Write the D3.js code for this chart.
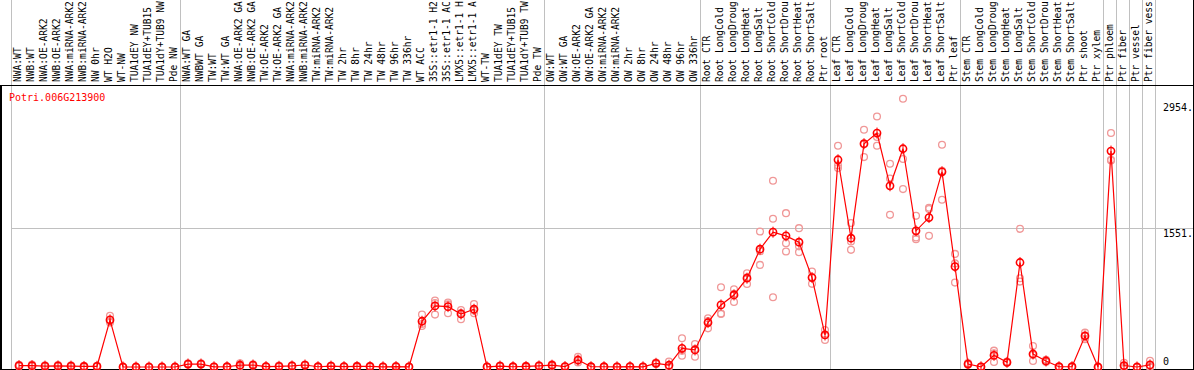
<!DOCTYPE html>
<html>
<head>
<meta charset="utf-8">
<script src="https://cdn.jsdelivr.net/npm/d3@7"></script>
<style>
  body { margin: 0; background: #fff; }
  text { font-family: "DejaVu Sans Mono", monospace; font-size: 10px; }
  .lbl { font-size: 9.6px; }
</style>
</head>
<body>
<svg id="chart" width="1194" height="370"></svg>
<script>
// sample labels (as shown, cut to 14 chars)
var labels = [
  "NWA:WT", "NWB:WT", "NWA:OE-ARK2", "NWB:OE-ARK2", "NWA:miRNA-ARK2", "NWB:miRNA-ARK2", "NW 0hr", "WT H2O", "WT-NW",
  "TUA1dEY NW", "TUA1dEY+TUB15", "TUA1dY+TUB9 NW", "Pde NW",
  "NWA:WT GA", "NWBWT GA", "TW:WT", "TW:WT GA", "NWA:OE-ARK2 GA", "NWB:OE-ARK2 GA", "TW:OE-ARK2", "TW:OE-ARK2 GA",
  "NWA:miRNA-ARK2", "NWB:miRNA-ARK2", "TW:miRNA-ARK2", "TW:miRNA-ARK2", "TW 2hr", "TW 8hr", "TW 24hr", "TW 48hr",
  "TW 96hr", "TW 336hr", "WT ACC", "35S::etr1-1 H2", "35S::etr1-1 AC", "LMX5::etr1-1 H", "LMX5::etr1-1 A", "WT-TW",
  "TUA1dEY TW", "TUA1dEY+TUB15", "TUA1dY+TUB9 TW", "Pde TW",
  "OW:WT", "OW:WT GA", "OW:OE-ARK2", "OW:OE-ARK2 GA", "OW:miRNA-ARK2", "OW:miRNA-ARK2", "OW 2hr", "OW 8hr",
  "OW 24hr", "OW 48hr", "OW 96hr", "OW 336hr",
  "Root CTR", "Root LongCold", "Root LongDroug", "Root LongHeat", "Root LongSalt", "Root ShortCold", "Root ShortDrou",
  "Root ShortHeat", "Root ShortSalt", "Ptr root",
  "Leaf CTR", "Leaf LongCold", "Leaf LongDroug", "Leaf LongHeat", "Leaf LongSalt", "Leaf ShortCold", "Leaf ShortDrou",
  "Leaf ShortHeat", "Leaf ShortSalt", "Ptr leaf",
  "Stem CTR", "Stem LongCold", "Stem LongDroug", "Stem LongHeat", "Stem LongSalt", "Stem ShortCold", "Stem ShortDrou",
  "Stem ShortHeat", "Stem ShortSalt", "Ptr shoot", "Ptr xylem",
  "Ptr phloem", "Ptr fiber", "Ptr vessel", "Ptr fiber vess"
];

// how many samples in each block between grey lines
var groupSizes = [13, 28, 12, 10, 10, 11, 1, 1, 1, 1];

// mean expression per sample
var means = [
  15, 15, 10, 12, 10, 6, 8, 525, 0, 0, 0, 0, 0,
  33, 33, 2, 3, 20, 22, 5, 8, 12, 22, 3, 10, 4, 6, 6, 2, 5, 2, 510, 681, 673, 591, 644, 2, 10, 3, 6, 12,
  20, 5, 78, 3, 3, 2, 4, 2, 41, 20, 208, 190,
  495, 692, 803, 990, 1313, 1503, 1462, 1391, 997, 357,
  2310, 1436, 2489, 2608, 2020, 2433, 1518, 1666, 2176, 1119,
  33, 2, 130, 52, 1165, 145, 67, 3, 3, 346, 0,
  2407, 16, 0, 23
];

// replicate values per sample
var reps = [
  [25, 10, 8], [28, 10, 6], [20, 8, 4], [22, 10, 5], [20, 8, 3], [12, 4, 2], [12, 6, 5], [570, 510, 495],
  [0, 0, 0], [2, 0, 0], [0, 0, 0], [0, 0, 0], [0, 0, 0],
  [40, 30, 28], [42, 28, 30], [5, 0, 0], [6, 2, 0], [40, 15, 8], [30, 20, 15], [8, 4, 2], [15, 5, 3],
  [18, 10, 8], [28, 20, 16], [6, 2, 1], [15, 8, 6], [8, 3, 1], [12, 4, 2], [10, 5, 3], [4, 1, 0],
  [10, 3, 2], [4, 1, 0], [584, 480, 457], [740, 584, 714], [718, 599, 700], [636, 532, 600], [703, 599, 630],
  [4, 1, 0], [15, 8, 6], [6, 2, 1], [12, 4, 2], [20, 10, 6],
  [30, 18, 12], [8, 4, 2], [115, 70, 50], [5, 3, 1], [5, 3, 1], [4, 1, 0], [8, 3, 1], [4, 1, 0],
  [50, 40, 33], [60, 0, 0], [320, 180, 126], [257, 200, 115],
  [543, 511, 431], [889, 595, 591], [867, 817, 725], [1045, 1000, 926], [1510, 1290, 1138],
  [2076, 1652, 778], [1715, 1380, 1287], [1548, 1345, 1280], [1064, 1000, 927], [413, 357, 301],
  [2466, 2247, 2217], [1604, 1400, 1306], [2645, 2482, 2340], [2793, 2565, 2466], [2265, 2100, 1696],
  [2990, 2318, 1983], [1685, 1444, 1425], [1760, 1776, 1462], [2477, 2187, 1864], [1261, 1155, 941],
  [45, 30, 24], [5, 1, 0], [182, 152, 56], [60, 50, 46], [1540, 990, 952], [234, 134, 67], [80, 65, 56],
  [6, 2, 1], [5, 3, 1], [383, 346, 309], [2, 0, 0],
  [2608, 2310, 2302], [48, 0, 0], [0, 0, 0], [70, 0, 0]
];

var geneName = "Potri.006G213900";
var tickValues = [0, 1551, 2954];
var tickLabels = ["0", "1551.", "2954."];

var width = 1194, height = 370;
var plotLeft = 11, plotRight = 1155, headerBottom = 85, plotBottom = 369;

var svg = d3.select("#chart");

var idx = d3.range(labels.length);
var x = d3.scaleBand().domain(idx).range([plotLeft, plotRight]).paddingInner(0).paddingOuter(0);
var y = d3.scaleLinear().domain([0, 2954]).range([367, 102]);

function px(i) { return x(i) + 8; }

// group boundaries
var bounds = [0];
groupSizes.forEach(function (n) { bounds.push(bounds[bounds.length - 1] + n); });

svg.append("g").selectAll("line").data(bounds).enter().append("line")
  .attr("x1", function (b) { return b < labels.length ? x(b) + 0.5 : plotRight + 0.5; })
  .attr("x2", function (b) { return b < labels.length ? x(b) + 0.5 : plotRight + 0.5; })
  .attr("y1", 0).attr("y2", plotBottom)
  .attr("stroke", "#c0c0c0").attr("stroke-width", 1).attr("shape-rendering", "crispEdges");

// horizontal grid at the middle tick
svg.append("line")
  .attr("x1", plotLeft).attr("x2", width)
  .attr("y1", Math.round(y(1551)) + 0.5).attr("y2", Math.round(y(1551)) + 0.5)
  .attr("stroke", "#c0c0c0").attr("shape-rendering", "crispEdges");

// frame
svg.append("line").attr("x1", 0).attr("x2", width).attr("y1", headerBottom + 0.5).attr("y2", headerBottom + 0.5)
  .attr("stroke", "#000").attr("shape-rendering", "crispEdges");
svg.append("line").attr("x1", 0).attr("x2", width).attr("y1", plotBottom + 0.5).attr("y2", plotBottom + 0.5)
  .attr("stroke", "#000").attr("stroke-width", 2).attr("shape-rendering", "crispEdges");
svg.append("line").attr("x1", 0.5).attr("x2", 0.5).attr("y1", headerBottom).attr("y2", height)
  .attr("stroke", "#000").attr("stroke-width", 2).attr("shape-rendering", "crispEdges");
svg.append("line").attr("x1", width - 0.5).attr("x2", width - 0.5).attr("y1", 0).attr("y2", height)
  .attr("stroke", "#000").attr("shape-rendering", "crispEdges");

// rotated sample labels
svg.append("g").selectAll("text").data(labels).enter().append("text")
  .attr("class", "lbl")
  .attr("transform", function (d, i) { return "translate(" + (x(i) + 6.5) + "," + (headerBottom - 3) + ") rotate(-90)"; })
  .attr("dy", "0.35em")
  .attr("fill", "#000")
  .text(function (d) { return d; });

// gene name
svg.append("text").attr("x", 9).attr("y", 101).attr("fill", "#ff0000").text(geneName);

// right tick labels
svg.append("g").selectAll("text").data(tickValues).enter().append("text")
  .attr("x", 1163)
  .attr("y", function (v) { return v === 0 ? y(v) - 2 : y(v) + 9; })
  .attr("fill", "#000")
  .text(function (v, i) { return tickLabels[i]; });

// replicates
var repPts = [];
reps.forEach(function (r, i) { r.forEach(function (v) { repPts.push({ i: i, v: v }); }); });
svg.append("g").selectAll("circle").data(repPts).enter().append("circle")
  .attr("cx", function (d) { return px(d.i); })
  .attr("cy", function (d) { return y(d.v); })
  .attr("r", 3.4)
  .attr("fill", "none")
  .attr("stroke", "#f09898")
  .attr("stroke-width", 1.3);

// line through means
var line = d3.line().x(function (d, i) { return px(i); }).y(function (d) { return y(d); });
svg.append("path").datum(means).attr("d", line)
  .attr("fill", "none").attr("stroke", "#ff0000").attr("stroke-width", 1.2);

// mean markers with small ticks
var marks = svg.append("g").selectAll("g").data(means).enter().append("g")
  .attr("transform", function (d, i) { return "translate(" + px(i) + "," + y(d) + ")"; });
marks.append("line").attr("x1", 0).attr("x2", 0).attr("y1", -5.5).attr("y2", 5.5)
  .attr("stroke", "#ff0000").attr("stroke-width", 1);
marks.append("circle").attr("r", 3.6).attr("fill", "none")
  .attr("stroke", "#ff0000").attr("stroke-width", 1.6);
</script>
</body>
</html>
